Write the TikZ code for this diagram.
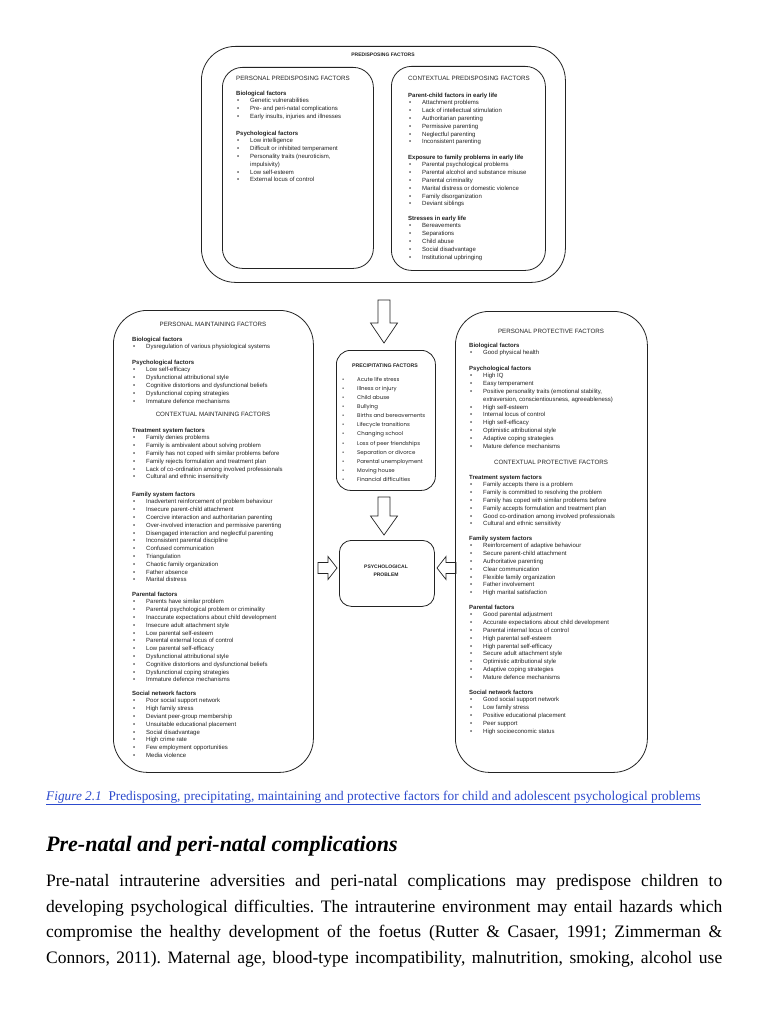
\documentclass[tikz,border=0pt]{standalone}
\usepackage{fontspec}
\setmainfont{Liberation Serif}
\newfontfamily\diagfont{Liberation Sans}
\newfontfamily\gothfont{Poppins}

\definecolor{ink}{RGB}{35,35,35}
\definecolor{capblue}{RGB}{45,75,205}

\newlength\bgap
\setlength\bgap{14pt}
\newcommand{\fbul}{\makebox[\bgap][l]{\hspace{1pt}\textbullet}}
\newcommand{\fitem}[1]{\\\fbul#1}
\newcommand{\fcont}[1]{\\\hspace*{\bgap}#1}

\tikzset{
  factorbox/.style={draw=ink, line width=0.8pt, rounded corners=#1, inner sep=0pt, anchor=north west},
  factorbox/.default=20pt,
  sect/.style={anchor=north west, inner sep=0pt, align=left, text=ink,
    font=\diagfont\fontsize{6}{7.8}\selectfont},
  boxtitle/.style={inner sep=0pt, text=ink, font=\diagfont\fontsize{6.2}{7}\selectfont},
  arrowline/.style={draw=ink, line width=0.7pt, fill=white, line join=miter},
  % length, shaft half width, head half width, head length
  pics/blockarrow/.style n args={4}{code={
    \draw[arrowline] (0,-#2) -- (#1-#4,-#2) -- (#1-#4,-#3) -- (#1,0)
      -- (#1-#4,#3) -- (#1-#4,#2) -- (0,#2) -- cycle;}}
}

\begin{document}
\begin{tikzpicture}[x=1pt, y=-1pt]
\fill[white] (0,0) rectangle (768,1024);
\useasboundingbox (0,0) rectangle (768,1024);

% predisposing factors
\node[factorbox=34pt, minimum width=364pt, minimum height=236pt] (predis) at (201,46) {};
\node[boxtitle, font=\diagfont\bfseries\fontsize{5}{6}\selectfont] (predistitle) at (383,55) {PREDISPOSING FACTORS};
\node[factorbox=20pt, minimum width=151pt, minimum height=201pt] (perspre) at (222,67) {};
\node[factorbox=20pt, minimum width=154pt, minimum height=204pt] (contpre) at (391,66) {};

\node[boxtitle, anchor=west] (persretitle) at (236,78) {PERSONAL PREDISPOSING FACTORS};
\node[sect] (prebio) at (236,90.5) {\textbf{Biological factors}\fitem{Genetic vulnerabilities}\fitem{Pre- and peri-natal complications}\fitem{Early insults, injuries and illnesses}};
\node[sect] (prepsy) at (236,130.5) {\textbf{Psychological factors}\fitem{Low intelligence}\fitem{Difficult or inhibited temperament}\fitem{Personality traits (neuroticism,}\fcont{impulsivity)}\fitem{Low self-esteem}\fitem{External locus of control}};

\node[boxtitle, anchor=west] (contpretitle) at (408,78) {CONTEXTUAL PREDISPOSING FACTORS};
\node[sect] (prepc) at (408,92.5) {\textbf{Parent-child factors in early life}\fitem{Attachment problems}\fitem{Lack of intellectual stimulation}\fitem{Authoritarian parenting}\fitem{Permissive parenting}\fitem{Neglectful parenting}\fitem{Inconsistent parenting}};
\node[sect] (preexp) at (408,154.5) {\textbf{Exposure to family problems in early life}\fitem{Parental psychological problems}\fitem{Parental alcohol and substance misuse}\fitem{Parental criminality}\fitem{Marital distress or domestic violence}\fitem{Family disorganization}\fitem{Deviant siblings}};
\node[sect] (prestress) at (408,215.5) {\textbf{Stresses in early life}\fitem{Bereavements}\fitem{Separations}\fitem{Child abuse}\fitem{Social disadvantage}\fitem{Institutional upbringing}};

% precipitating factors and problem
\node[factorbox=14pt, minimum width=99pt, minimum height=140pt] (precip) at (336,350) {};
\node[boxtitle, font=\diagfont\bfseries\fontsize{5.2}{6}\selectfont] (preciptitle) at (385,366) {PRECIPITATING FACTORS};
\node[sect, font=\gothfont\fontsize{5.4}{9.1}\selectfont, execute at begin node={\setlength\bgap{16pt}}] (preciplist) at (341,377) {\fbul Acute life stress\fitem{Illness or injury}\fitem{Child abuse}\fitem{Bullying}\fitem{Births and bereavements}\fitem{Lifecycle transitions}\fitem{Changing school}\fitem{Loss of peer friendships}\fitem{Separation or divorce}\fitem{Parental unemployment}\fitem{Moving house}\fitem{Financial difficulties}};

\node[factorbox=12pt, minimum width=95pt, minimum height=66pt] (problem) at (339,540) {};
\node[boxtitle, align=center, font=\diagfont\bfseries\fontsize{5}{8.5}\selectfont] (problemtext) at (386,571) {PSYCHOLOGICAL\\PROBLEM};

% block arrows
\coordinate (arrpre) at (384,300);
\coordinate (arrprec) at (384,497);
\coordinate (arrmaint) at (318,568);
\coordinate (arrprot) at (456,568);
\pic[rotate=-90] at (arrpre) {blockarrow={43}{6}{13.5}{20}};
\pic[rotate=-90] at (arrprec) {blockarrow={38}{6}{13.5}{19}};
\pic at (arrmaint) {blockarrow={19}{5.5}{11.5}{9}};
\pic[rotate=180] at (arrprot) {blockarrow={19}{5.5}{11.5}{9}};

% maintaining factors
\node[factorbox=34pt, minimum width=200pt, minimum height=462pt] (maint) at (113,310) {};
\node[boxtitle] (mainttitle) at (213,324) {PERSONAL MAINTAINING FACTORS};
\node[sect] (mbio) at (132,336.5) {\textbf{Biological factors}\fitem{Dysregulation of various physiological systems}};
\node[sect] (mpsy) at (132,359.5) {\textbf{Psychological factors}\fitem{Low self-efficacy}\fitem{Dysfunctional attributional style}\fitem{Cognitive distortions and dysfunctional beliefs}\fitem{Dysfunctional coping strategies}\fitem{Immature defence mechanisms}};
\node[boxtitle] (cmainttitle) at (213,414) {CONTEXTUAL MAINTAINING FACTORS};
\node[sect] (mtreat) at (132,427.5) {\textbf{Treatment system factors}\fitem{Family denies problems}\fitem{Family is ambivalent about solving problem}\fitem{Family has not coped with similar problems before}\fitem{Family rejects formulation and treatment plan}\fitem{Lack of co-ordination among involved professionals}\fitem{Cultural and ethnic insensitivity}};
\node[sect] (mfam) at (132,491.5) {\textbf{Family system factors}\fitem{Inadvertent reinforcement of problem behaviour}\fitem{Insecure parent-child attachment}\fitem{Coercive interaction and authoritarian parenting}\fitem{Over-involved interaction and permissive parenting}\fitem{Disengaged interaction and neglectful parenting}\fitem{Inconsistent parental discipline}\fitem{Confused communication}\fitem{Triangulation}\fitem{Chaotic family organization}\fitem{Father absence}\fitem{Marital distress}};
\node[sect] (mpar) at (132,591.5) {\textbf{Parental factors}\fitem{Parents have similar problem}\fitem{Parental psychological problem or criminality}\fitem{Inaccurate expectations about child development}\fitem{Insecure adult attachment style}\fitem{Low parental self-esteem}\fitem{Parental external locus of control}\fitem{Low parental self-efficacy}\fitem{Dysfunctional attributional style}\fitem{Cognitive distortions and dysfunctional beliefs}\fitem{Dysfunctional coping strategies}\fitem{Immature defence mechanisms}};
\node[sect] (msoc) at (132,690.5) {\textbf{Social network factors}\fitem{Poor social support network}\fitem{High family stress}\fitem{Deviant peer-group membership}\fitem{Unsuitable educational placement}\fitem{Social disadvantage}\fitem{High crime rate}\fitem{Few employment opportunities}\fitem{Media violence}};

% protective factors
\node[factorbox=34pt, minimum width=192pt, minimum height=461pt] (protect) at (455,311) {};
\node[boxtitle] (prottitle) at (551,331) {PERSONAL PROTECTIVE FACTORS};
\node[sect] (pbio) at (469,342.5) {\textbf{Biological factors}\fitem{Good physical health}};
\node[sect] (ppsy) at (469,365.5) {\textbf{Psychological factors}\fitem{High IQ}\fitem{Easy temperament}\fitem{Positive personality traits (emotional stability,}\fcont{extraversion, conscientiousness, agreeableness)}\fitem{High self-esteem}\fitem{Internal locus of control}\fitem{High self-efficacy}\fitem{Optimistic attributional style}\fitem{Adaptive coping strategies}\fitem{Mature defence mechanisms}};
\node[boxtitle] (cprottitle) at (551,462) {CONTEXTUAL PROTECTIVE FACTORS};
\node[sect] (ptreat) at (469,474.5) {\textbf{Treatment system factors}\fitem{Family accepts there is a problem}\fitem{Family is committed to resolving the problem}\fitem{Family has coped with similar problems before}\fitem{Family accepts formulation and treatment plan}\fitem{Good co-ordination among involved professionals}\fitem{Cultural and ethnic sensitivity}};
\node[sect] (pfam) at (469,535.5) {\textbf{Family system factors}\fitem{Reinforcement of adaptive behaviour}\fitem{Secure parent-child attachment}\fitem{Authoritative parenting}\fitem{Clear communication}\fitem{Flexible family organization}\fitem{Father involvement}\fitem{High marital satisfaction}};
\node[sect] (ppar) at (469,604.5) {\textbf{Parental factors}\fitem{Good parental adjustment}\fitem{Accurate expectations about child development}\fitem{Parental internal locus of control}\fitem{High parental self-esteem}\fitem{High parental self-efficacy}\fitem{Secure adult attachment style}\fitem{Optimistic attributional style}\fitem{Adaptive coping strategies}\fitem{Mature defence mechanisms}};
\node[sect] (psoc) at (469,689.5) {\textbf{Social network factors}\fitem{Good social support network}\fitem{Low family stress}\fitem{Positive educational placement}\fitem{Peer support}\fitem{High socioeconomic status}};

% caption and text
\node[anchor=base west, inner sep=0pt, text=capblue, font=\fontsize{13.3}{15}\selectfont] (caption) at (46,800) {\underline{\textit{Figure 2.1}\ \ Predisposing, precipitating, maintaining and protective factors for child and adolescent psychological problems}};
\node[anchor=base west, inner sep=0pt, font=\fontsize{22}{26}\selectfont\bfseries\itshape] (heading) at (46,851) {Pre-natal and peri-natal complications};
\node[anchor=north west, inner sep=0pt, align=left, font=\fontsize{17.5}{25.7}\selectfont\frenchspacing] (body) at (46,874) {\makebox[676pt][s]{Pre-natal intrauterine adversities and peri-natal complications may predispose children to}\\
\makebox[676pt][s]{developing psychological difficulties. The intrauterine environment may entail hazards which}\\
\makebox[676pt][s]{compromise the healthy development of the foetus (Rutter \& Casaer, 1991; Zimmerman \&}\\
\makebox[676pt][s]{Connors, 2011). Maternal age, blood-type incompatibility, malnutrition, smoking, alcohol use}};
\end{tikzpicture}
\end{document}
